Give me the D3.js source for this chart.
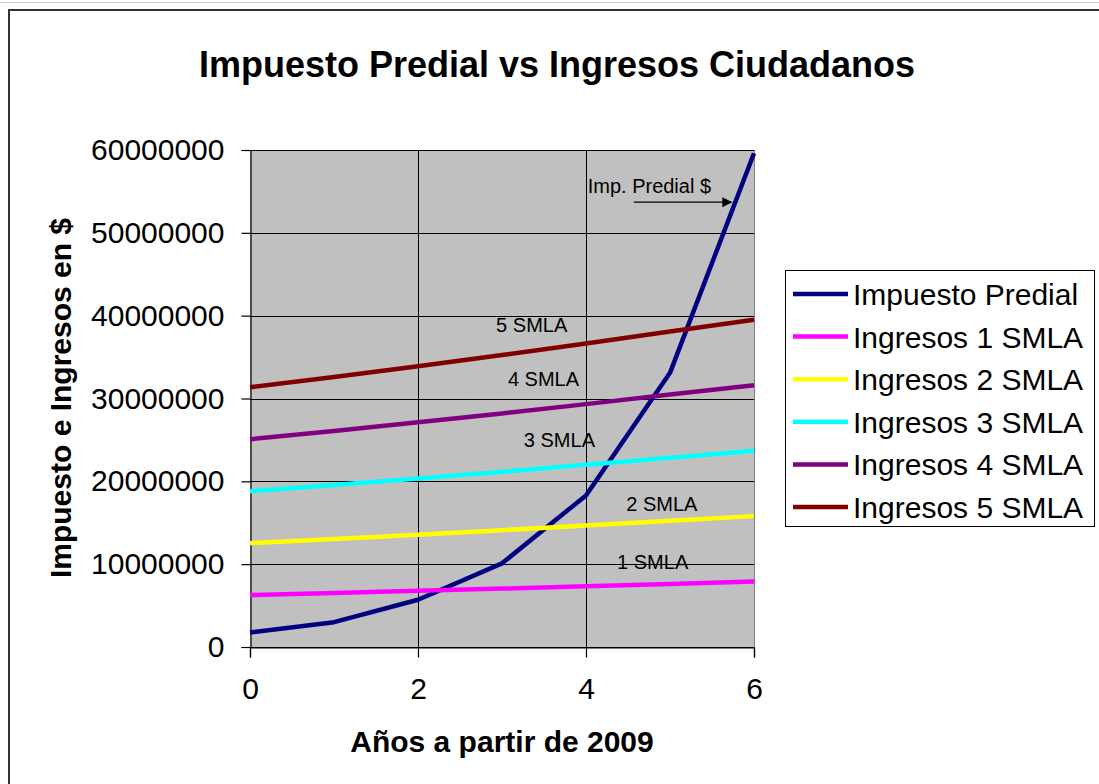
<!DOCTYPE html>
<html>
<head>
<meta charset="utf-8">
<script src="https://cdn.jsdelivr.net/npm/d3@7"></script>
<style>
  html, body { margin: 0; padding: 0; background: #fff; }
  svg { display: block; font-family: Arial, "Liberation Sans", sans-serif; }
</style>
</head>
<body>
<svg id="chart" width="1099" height="784"></svg>
<script>
// Datos (años desde 2009)
const years = [0, 1, 2, 3, 4, 5, 6];
const impuestoPredial = [1750000, 3000000, 5700000, 10100000, 18300000, 33100000, 59600000];
const ingresos1 = [6270000, 6520000, 6780000, 7050000, 7330000, 7620000, 7900000];
const ingresos2 = [12540000, 13040000, 13560000, 14100000, 14660000, 15240000, 15800000];
const ingresos3 = [18810000, 19560000, 20340000, 21150000, 21990000, 22860000, 23700000];
const ingresos4 = [25080000, 26080000, 27120000, 28200000, 29320000, 30480000, 31600000];
const ingresos5 = [31350000, 32600000, 33900000, 35250000, 36650000, 38100000, 39500000];

const seriesNames = ['Impuesto Predial', 'Ingresos 1 SMLA', 'Ingresos 2 SMLA',
                     'Ingresos 3 SMLA', 'Ingresos 4 SMLA', 'Ingresos 5 SMLA'];
const seriesColors = ['#000080', '#ff00ff', '#ffff00', '#00ffff', '#800080', '#800000'];
const seriesValues = [impuestoPredial, ingresos1, ingresos2, ingresos3, ingresos4, ingresos5];

const xTicks = [0, 2, 4, 6];
const yTicks = [0, 10000000, 20000000, 30000000, 40000000, 50000000, 60000000];

// etiquetas sobre el gráfico (coordenadas en unidades de datos)
const notas = [
  { text: '5 SMLA', x: 2.93, y: 38000000 },
  { text: '4 SMLA', x: 3.07, y: 31500000 },
  { text: '3 SMLA', x: 3.26, y: 24150000 },
  { text: '2 SMLA', x: 4.48, y: 16450000 },
  { text: '1 SMLA', x: 4.37, y: 9450000 },
  { text: 'Imp. Predial $', x: 4.02, y: 54800000 }
];

const svg = d3.select('#chart');
const W = 1099, H = 784;
const plot = { left: 250, right: 754, top: 150, bottom: 647 };

// marco exterior
svg.append('line').attr('x1', 0).attr('x2', W).attr('y1', 2.5).attr('y2', 2.5)
  .attr('stroke', '#c8c8c8').attr('stroke-width', 1);
svg.append('rect').attr('x', 9).attr('y', 10).attr('width', W + 20).attr('height', H + 20)
  .attr('fill', '#fff').attr('stroke', '#333').attr('stroke-width', 2);

const x = d3.scaleLinear().domain([0, 6]).range([plot.left, plot.right]);
const y = d3.scaleLinear().domain([0, 60000000]).range([plot.bottom, plot.top]);

// fondo del área de trazado
svg.append('rect')
  .attr('x', plot.left).attr('y', plot.top)
  .attr('width', plot.right - plot.left).attr('height', plot.bottom - plot.top)
  .attr('fill', '#c0c0c0');

// rejilla
const grid = svg.append('g').attr('class', 'grid');
grid.selectAll('line.h').data(yTicks).join('line')
  .attr('class', 'h')
  .attr('x1', plot.left).attr('x2', plot.right)
  .attr('y1', d => Math.round(y(d)) + 0.5).attr('y2', d => Math.round(y(d)) + 0.5)
  .attr('stroke', '#000').attr('stroke-width', 1);
grid.selectAll('line.v').data(xTicks.filter(d => d > 0 && d < 6)).join('line')
  .attr('class', 'v')
  .attr('x1', d => Math.round(x(d)) + 0.5).attr('x2', d => Math.round(x(d)) + 0.5)
  .attr('y1', plot.top).attr('y2', plot.bottom)
  .attr('stroke', '#000').attr('stroke-width', 1);
svg.append('line')
  .attr('x1', plot.right + 0.5).attr('x2', plot.right + 0.5)
  .attr('y1', plot.top).attr('y2', plot.bottom)
  .attr('stroke', '#808080').attr('stroke-width', 1);

// ejes
const yAxis = d3.axisLeft(y).tickValues(yTicks).tickSize(9).tickPadding(17)
  .tickFormat(d3.format('d'));
const gy = svg.append('g').attr('transform', `translate(${plot.left + 0.5},0)`).call(yAxis);
const xAxis = d3.axisBottom(x).tickValues(xTicks).tickSize(10).tickPadding(20)
  .tickFormat(d3.format('d'));
const gx = svg.append('g').attr('transform', `translate(0,${plot.bottom + 0.5})`).call(xAxis);

[gx, gy].forEach(g => {
  g.select('.domain').attr('stroke', '#000').attr('stroke-width', 1.2);
  g.selectAll('.tick line').attr('stroke', '#000').attr('stroke-width', 1.2);
  g.selectAll('.tick text')
    .attr('fill', '#000')
    .style('font-size', '30px')
    .style('font-family', 'Arial, "Liberation Sans", sans-serif');
});

// líneas de series
const line = d3.line().x((d, i) => x(years[i])).y(d => y(d));
svg.append('g').attr('class', 'series')
  .selectAll('path').data(seriesValues).join('path')
  .attr('d', d => line(d))
  .attr('fill', 'none')
  .attr('stroke', (d, i) => seriesColors[i])
  .attr('stroke-width', 4.5)
  .attr('stroke-linejoin', 'round');

// anotaciones
svg.append('g').selectAll('text').data(notas).join('text')
  .attr('x', d => x(d.x)).attr('y', d => y(d.y))
  .attr('font-size', 20)
  .attr('fill', '#000')
  .text(d => d.text);

svg.append('defs').append('marker')
  .attr('id', 'flecha').attr('viewBox', '0 0 10 10')
  .attr('refX', 9).attr('refY', 5)
  .attr('markerWidth', 12).attr('markerHeight', 10)
  .attr('markerUnits', 'userSpaceOnUse')
  .attr('orient', 'auto')
  .append('path').attr('d', 'M0,0 L10,5 L0,10 z').attr('fill', '#000');

svg.append('line')
  .attr('x1', x(4.57)).attr('x2', x(5.73))
  .attr('y1', y(53700000)).attr('y2', y(53700000))
  .attr('stroke', '#000').attr('stroke-width', 1.2)
  .attr('marker-end', 'url(#flecha)');

// títulos
svg.append('text')
  .attr('x', 557).attr('y', 77)
  .attr('text-anchor', 'middle')
  .attr('font-size', 36).attr('font-weight', 'bold')
  .text('Impuesto Predial vs Ingresos Ciudadanos');

svg.append('text')
  .attr('x', (plot.left + plot.right) / 2).attr('y', 752)
  .attr('text-anchor', 'middle')
  .attr('font-size', 30).attr('font-weight', 'bold')
  .text('Años a partir de 2009');

svg.append('text')
  .attr('transform', 'translate(71,398) rotate(-90)')
  .attr('text-anchor', 'middle')
  .attr('font-size', 30).attr('font-weight', 'bold')
  .text('Impuesto e Ingresos en $');

// leyenda
const legend = svg.append('g').attr('transform', 'translate(785,270)');
legend.append('rect')
  .attr('x', 0.5).attr('y', 0.5).attr('width', 309).attr('height', 256)
  .attr('fill', '#fff').attr('stroke', '#000').attr('stroke-width', 1);
const items = legend.selectAll('g.item').data(seriesNames).join('g')
  .attr('class', 'item')
  .attr('transform', (d, i) => `translate(0,${24 + i * 42.6})`);
items.append('line')
  .attr('x1', 8).attr('x2', 63).attr('y1', 0).attr('y2', 0)
  .attr('stroke', (d, i) => seriesColors[i]).attr('stroke-width', 4.5);
items.append('text')
  .attr('x', 68).attr('y', 11)
  .attr('font-size', 30)
  .text(d => d);
</script>
</body>
</html>
